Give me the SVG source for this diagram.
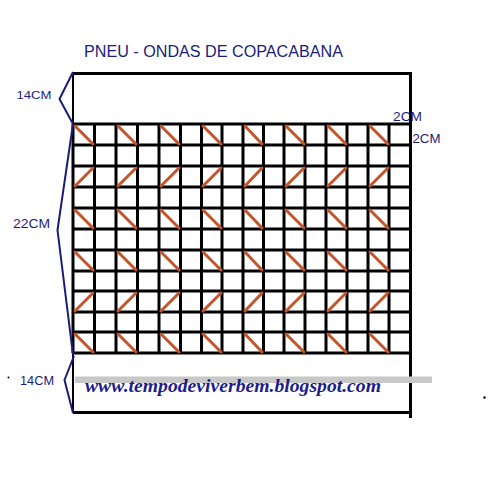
<svg xmlns="http://www.w3.org/2000/svg" width="500" height="500" viewBox="0 0 500 500">
<defs>
<style>
.grid{stroke:#000;stroke-width:3;fill:none}
.thin{stroke:#000;stroke-width:2;fill:none}
.st{stroke:#c4552a;stroke-width:3;stroke-linecap:round}
.brace{stroke:#1c1c7c;stroke-width:2;fill:none;stroke-linejoin:miter}
.lbl{font-family:"Comic Sans MS","Liberation Sans",sans-serif;fill:#1c1c7c}
</style>
</defs>
<rect width="500" height="500" fill="#fff"/>
<g id="frame">
<path class="grid" d="M73 73.5H411M410.5 72V418M73 412.5H411"/>
<path class="thin" d="M73 73V124M73 353V413"/>
</g>
<g id="grid">
<path class="grid" d="M73 124H411M73 145H411M73 166H411M73 187H411M73 208H411M73 229H411M73 250H411M73 271H411M73 291H411M73 312H411M73 332H411M73 353H411"/>
<path class="grid" d="M73 124V353M94.5 124V353M116 124V353M137.5 124V353M159 124V353M180.5 124V353M201.5 124V353M222 124V353M243 124V353M263.5 124V353M284 124V353M305 124V353M326 124V353M347 124V353M368 124V353M389 124V353"/>
</g>
<g id="stitches">
<path class="st" d="M75 126L93 144M118 126L136 144M161 126L179 144M203 126L221 144M245 126L262 144M286 126L304 144M328 126L346 144M370 126L388 144"/>
<path class="st" d="M75 186L93 168M118 186L136 168M161 186L179 168M203 186L221 168M245 186L262 168M286 186L304 168M328 186L346 168M370 186L388 168"/>
<path class="st" d="M75 210L93 228M118 210L136 228M161 210L179 228M203 210L221 228M245 210L262 228M286 210L304 228M328 210L346 228M370 210L388 228"/>
<path class="st" d="M75 252L93 270M118 252L136 270M161 252L179 270M203 252L221 270M245 252L262 270M286 252L304 270M328 252L346 270M370 252L388 270"/>
<path class="st" d="M75 311L93 293M118 311L136 293M161 311L179 293M203 311L221 293M245 311L262 293M286 311L304 293M328 311L346 293M370 311L388 293"/>
<path class="st" d="M75 334L93 352M118 334L136 352M161 334L179 352M203 334L221 352M245 334L262 352M286 334L304 352M328 334L346 352M370 334L388 352"/>
</g>
<g id="braces">
<path class="brace" d="M73 72L59.5 99L73 124"/>
<path class="brace" d="M73 124L57.5 230L73 355"/>
<path class="brace" d="M74 356L64.5 380L73 413"/>
</g>
<rect x="75" y="376.5" width="357" height="6.5" fill="#c8c8c8"/>
<g id="labels">
<text class="lbl" x="84" y="57" font-size="16" textLength="259" lengthAdjust="spacingAndGlyphs">PNEU - ONDAS DE COPACABANA</text>
<text class="lbl" x="16.5" y="98.5" font-size="11.5" textLength="35" lengthAdjust="spacingAndGlyphs">14CM</text>
<text class="lbl" x="393" y="120.5" font-size="13" textLength="29" lengthAdjust="spacingAndGlyphs">2CM</text>
<text class="lbl" x="412.5" y="143" font-size="13" textLength="28" lengthAdjust="spacingAndGlyphs">2CM</text>
<text class="lbl" x="13" y="227.5" font-size="12.5" textLength="37" lengthAdjust="spacingAndGlyphs">22CM</text>
<text class="lbl" x="20" y="385" font-size="13" textLength="34" lengthAdjust="spacingAndGlyphs">14CM</text>
<text x="85" y="392" font-family="Liberation Serif,serif" font-style="italic" font-weight="bold" font-size="18" fill="#1c1c8c" textLength="296" lengthAdjust="spacingAndGlyphs">www.tempodeviverbem.blogspot.com</text>
</g>
<circle cx="8.5" cy="377.5" r="1" fill="#000"/>
<circle cx="484.5" cy="397.5" r="1.2" fill="#000"/>
</svg>
